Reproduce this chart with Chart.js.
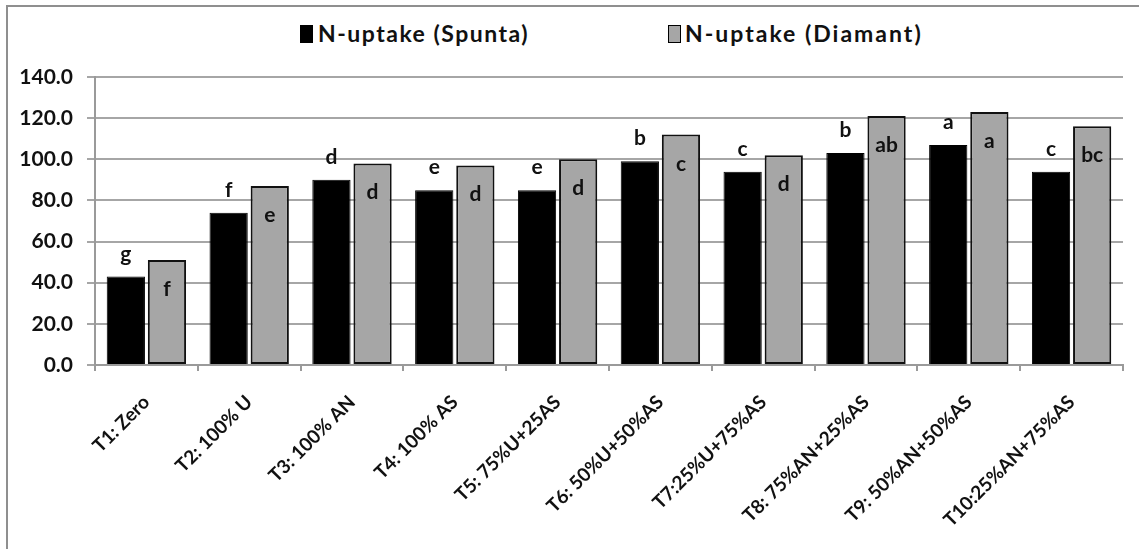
<!DOCTYPE html>
<html>
<head>
<meta charset="utf-8">
<script src="https://cdn.jsdelivr.net/npm/chart.js@4/dist/chart.umd.min.js"></script>
<style>
  html, body { margin:0; padding:0; background:#fff; }
  body { width:1139px; height:549px; position:relative; overflow:hidden; font-family:Lato, "DejaVu Sans", sans-serif; }
  .frame { position:absolute; left:6px; top:5px; width:1200px; height:600px; border-left:2px solid #8f8f8f; border-top:2px solid #8f8f8f; }
  .lg { position:absolute; top:19px; font-size:23px; letter-spacing:1.5px; font-weight:700; color:#111; white-space:nowrap; }
  .sw { position:absolute; top:25px; width:11px; height:16px; border:1px solid #000; }
  #wrap { position:absolute; left:0; top:0; width:1139px; height:549px; }
</style>
</head>
<body>
<div class="frame"></div>
<span class="sw" style="left:300px;background:#000"></span>
<span class="lg" style="left:318px">N-uptake (Spunta)</span>
<span class="sw" style="left:668px;background:#a6a6a6"></span>
<span class="lg" style="left:685px;letter-spacing:2px">N-uptake (Diamant)</span>
<div id="wrap"><canvas id="c" width="1139" height="549"></canvas></div>
<script>
const categories = ['T1: Zero', 'T2: 100% U', 'T3: 100% AN', 'T4: 100% AS', 'T5: 75%U+25AS',
  'T6: 50%U+50%AS', 'T7:25%U+75%AS', 'T8: 75%AN+25%AS', 'T9: 50%AN+50%AS', 'T10:25%AN+75%AS'];
const spunta = [43, 74, 90, 85, 85, 99, 94, 103, 107, 94];
const diamant = [51, 87, 98, 97, 100, 112, 102, 121, 123, 116];
const spuntaLetters = ['g', 'f', 'd', 'e', 'e', 'b', 'c', 'b', 'a', 'c'];
const diamantLetters = ['f', 'e', 'd', 'd', 'd', 'c', 'd', 'ab', 'a', 'bc'];
const yTicks = [0, 20, 40, 60, 80, 100, 120, 140];

const letterPlugin = {
  id: 'letters',
  afterDatasetsDraw(chart) {
    const ctx = chart.ctx;
    ctx.save();
    ctx.font = 'bold 21px Lato';
    ctx.fillStyle = '#111';
    ctx.textAlign = 'center';
    ctx.textBaseline = 'alphabetic';
    chart.getDatasetMeta(0).data.forEach((bar, i) => {
      ctx.fillText(spuntaLetters[i], bar.x, bar.y - 16);
    });
    chart.getDatasetMeta(1).data.forEach((bar, i) => {
      ctx.fillText(diamantLetters[i], bar.x, bar.y + 36);
    });
    ctx.restore();
  }
};

new Chart(document.getElementById('c'), {
  type: 'bar',
  data: {
    labels: categories,
    datasets: [{
      label: 'N-uptake (Spunta)',
      data: spunta,
      backgroundColor: '#000',
      borderColor: '#000',
      borderWidth: 1,
      categoryPercentage: 0.8,
      barPercentage: 0.93
    }, {
      label: 'N-uptake (Diamant)',
      data: diamant,
      backgroundColor: '#a6a6a6',
      borderColor: '#111',
      borderWidth: 2,
      borderSkipped: false,
      categoryPercentage: 0.8,
      barPercentage: 0.93
    }]
  },
  options: {
    responsive: false,
    animation: false,
    layout: { padding: { top: 77, right: 16, bottom: 0, left: 0 } },
    plugins: {
      legend: { display: false },
      tooltip: { enabled: false }
    },
    scales: {
      x: {
        afterFit: s => { s.height = 184; },
        grid: { drawOnChartArea: false, drawTicks: true, tickLength: 6, color: '#9a9a9a', lineWidth: 2, offset: true },
        border: { color: '#9a9a9a', width: 2 },
        ticks: {
          minRotation: 45,
          maxRotation: 45,
          color: '#111',
          padding: 20,
          font: { family: 'Lato', size: 19, weight: 'bold' }
        }
      },
      y: {
        min: 0,
        max: 140,
        afterFit: s => { s.width = 95; },
        afterBuildTicks: s => { s.ticks = yTicks.map(v => ({ value: v })); },
        grid: { color: '#a6a6a6', lineWidth: 2, tickLength: 8 },
        border: { color: '#9a9a9a', width: 2 },
        ticks: {
          color: '#111',
          padding: 14,
          font: { family: 'Lato', size: 21, weight: 'bold' },
          callback: v => v.toFixed(1)
        }
      }
    }
  },
  plugins: [letterPlugin]
});
</script>
</body>
</html>
